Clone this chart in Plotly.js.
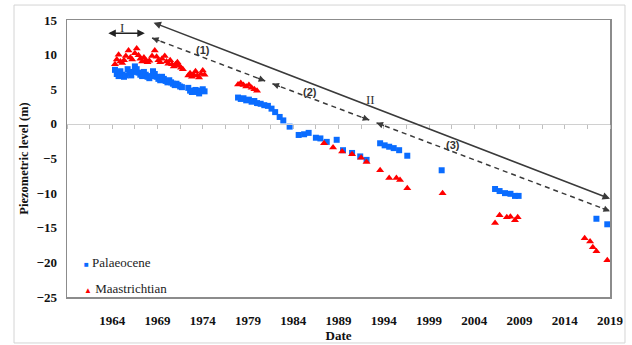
<!DOCTYPE html>
<html>
<head>
<meta charset="utf-8">
<script src="https://cdn.plot.ly/plotly-3.0.1.min.js"></script>
<style>html,body{margin:0;padding:0;background:#fff;}#chart{width:632px;height:345px;}</style>
</head>
<body>
<div id="chart"></div>
<script>
// ---- data (decimal years, piezometric level in m) ----
const palaeoceneYears = [
  1964.3,1964.5,1964.7,1964.9,1965.1,1965.3,1965.5,1965.7,1965.9,
  1966.1,1966.3,1966.5,1966.7,1966.9,1967.1,1967.3,1967.5,1967.7,1967.9,
  1968.1,1968.3,1968.5,1968.7,1968.9,1969.1,1969.3,1969.5,1969.7,1969.9,
  1970.1,1970.3,1970.5,1970.7,1970.9,1971.1,1971.3,1971.5,1971.7,
  1972.4,1972.6,1972.8,1973.0,1973.2,1973.4,1973.6,1973.8,1974.0,1974.2,
  1977.9,1978.2,1978.5,1978.8,1979.1,1979.4,1979.7,1980.0,1980.4,1980.8,
  1981.2,1981.6,1982.0,1982.5,1982.9,1983.6,1984.6,1985.2,1985.7,1986.5,
  1987.0,1987.7,1988.8,1989.5,1990.5,1991.4,1992.1,
  1993.6,1994.1,1994.6,1995.1,1995.7,1996.6,
  2000.4,
  2006.3,2006.8,2007.4,2008.0,2008.5,2008.9,
  2017.5,2018.7
];
const palaeoceneLevels = [
  7.8,7.2,6.9,7.6,7.1,6.8,7.0,7.9,7.4,
  7.0,7.5,8.3,7.9,7.4,7.1,6.9,7.5,7.1,6.8,
  6.6,6.9,7.6,7.2,6.8,6.5,6.3,6.8,6.5,6.2,
  6.0,6.3,6.0,5.8,5.6,5.8,5.6,5.4,5.3,
  5.2,4.8,4.6,4.7,4.9,4.6,4.4,4.8,5.0,4.7,
  3.8,3.6,3.7,3.4,3.5,3.2,3.3,3.0,2.9,2.7,
  2.6,2.2,1.7,1.0,0.5,-0.4,-1.6,-1.5,-1.3,-2.0,
  -2.1,-2.6,-2.3,-3.8,-4.2,-4.7,-5.2,
  -2.8,-3.1,-3.3,-3.5,-3.8,-4.6,
  -6.7,
  -9.4,-9.7,-10.0,-10.1,-10.4,-10.4,
  -13.7,-14.5
];
const maastrichtianYears = [
  1964.3,1964.5,1964.7,1964.9,1965.1,1965.3,1965.5,1965.8,1966.0,
  1966.2,1966.5,1966.7,1966.9,1967.1,1967.3,1967.5,1967.7,1967.9,
  1968.1,1968.4,1968.7,1968.9,1969.1,1969.3,1969.5,1969.8,1970.0,
  1970.2,1970.4,1970.6,1970.8,1971.0,1971.2,1971.4,1971.6,1971.8,
  1972.4,1972.6,1972.8,1973.0,1973.2,1973.4,1973.6,1973.8,1974.0,1974.2,
  1977.9,1978.2,1978.5,1978.8,1979.1,1979.4,1979.7,1980.0,
  1987.4,1988.4,1989.4,1990.5,1991.5,1992.1,
  1993.6,1994.6,1995.4,1995.8,1996.6,
  2000.5,
  2006.3,2006.8,2007.6,2008.0,2008.5,2008.8,
  2016.2,2016.8,2017.1,2017.5,2018.7
];
const maastrichtianLevels = [
  8.6,9.3,10.0,9.0,8.8,9.2,9.8,10.6,9.6,
  9.3,10.2,10.9,9.9,9.4,9.0,9.6,9.2,8.9,
  9.1,9.8,10.6,9.7,9.2,8.9,9.4,9.8,9.0,
  8.7,9.2,8.6,8.3,8.6,8.9,8.4,8.1,7.9,
  7.0,7.3,6.8,7.1,7.6,7.0,6.7,7.2,7.7,7.1,
  5.7,5.9,5.6,5.4,5.6,5.2,5.0,4.8,
  -2.8,-3.4,-4.0,-4.4,-4.9,-5.5,
  -6.7,-7.8,-7.8,-8.1,-9.3,
  -10.0,
  -14.3,-13.2,-13.5,-13.4,-13.9,-13.5,
  -16.5,-17.0,-17.8,-18.4,-19.7
];
const xTickYears = [1964,1969,1974,1979,1984,1989,1994,1999,2004,2009,2014,2019];
const yTicks = [-25,-20,-15,-10,-5,0,5,10,15];
const seriesNames = ['Palaeocene','Maastrichtian'];

// ---- styling / annotation geometry ----
const serif = "Liberation Serif, Times New Roman, serif";
const darkLine = '#3a3a3a';
const blue = '#0a6cff', red = '#ff0000';
const dashedSegs = [[1968.4,12.4,1980.9,6.2],[1981.7,5.8,1992.4,0.55],[1993.2,0.15,2019,-12.6]];

const traces = [
  {name:seriesNames[0], x:palaeoceneYears, y:palaeoceneLevels, type:'scatter', mode:'markers',
   marker:{symbol:'square', size:6, color:blue}},
  {name:seriesNames[1], x:maastrichtianYears, y:maastrichtianLevels, type:'scatter', mode:'markers',
   xaxis:'x2', marker:{symbol:'triangle-up', size:7, color:red}}
];

const shapes = [
  {type:'rect', xref:'paper', yref:'paper', x0:-0.0976, x1:1.0276, y0:-0.166, y1:1.054,
   line:{color:'#d4d4d4', width:1}, layer:'below'}
];
const annotations = [];
dashedSegs.forEach(s => {
  shapes.push({type:'line', xref:'x', yref:'y', x0:s[0], y0:s[1], x1:s[2], y1:s[3],
    line:{color:darkLine, width:1.5, dash:'5px,4px'}});
  annotations.push({x:s[0], y:s[1], xref:'x', yref:'y', text:'', showarrow:true, arrowhead:2,
    arrowsize:1, arrowwidth:1.3, arrowcolor:darkLine, ax:9, ay:3.4, standoff:0});
  annotations.push({x:s[2], y:s[3], xref:'x', yref:'y', text:'', showarrow:true, arrowhead:2,
    arrowsize:1, arrowwidth:1.3, arrowcolor:darkLine, ax:-9, ay:-3.4, standoff:0});
});
// solid double arrow (II)
annotations.push({x:2019, y:-10.8, ax:1968.4, ay:14.7, xref:'x', yref:'y', axref:'x', ayref:'y',
  text:'', showarrow:true, arrowhead:2, arrowside:'end+start', arrowsize:1, arrowwidth:1.5,
  arrowcolor:darkLine, standoff:0, startstandoff:0});
// I double arrow
annotations.push({x:1967.6, y:13.1, ax:1963.4, ay:13.1, xref:'x', yref:'y', axref:'x', ayref:'y',
  text:'', showarrow:true, arrowhead:2, arrowside:'end+start', arrowsize:1, arrowwidth:1.5,
  arrowcolor:'#222', standoff:0, startstandoff:0});
const labelFont = {family:'Liberation Sans, Arial, sans-serif', size:11, color:'#333', weight:'bold'};
[['(1)',1974.0,10.7],['(2)',1985.9,4.6],['(3)',2001.7,-3.05]].forEach(t=>{
  annotations.push({x:t[1], y:t[2], xref:'x', yref:'y', text:t[0], showarrow:false, font:labelFont});
});
annotations.push({x:1992.5, y:3.5, xref:'x', yref:'y', text:'II', showarrow:false,
  font:{family:serif, size:13, color:'#333'}});
annotations.push({x:1965.1, y:13.9, xref:'x', yref:'y', text:'I', showarrow:false,
  font:{family:serif, size:13, color:'#333'}});
// legend drawn as text annotations (tight symbol-to-text spacing like the original)
annotations.push({xref:'paper', yref:'paper', x:0.028, y:0.125, xanchor:'left', yanchor:'middle',
  showarrow:false, font:{family:serif, size:13, color:'#222'},
  text:'<span style="color:'+blue+';font-size:8px">■</span> '+seriesNames[0]});
annotations.push({xref:'paper', yref:'paper', x:0.028, y:0.03, xanchor:'left', yanchor:'middle',
  showarrow:false, font:{family:serif, size:13, color:'#222'},
  text:'<span style="color:'+red+';font-size:8px">▲</span> '+seriesNames[1]});

const layout = {
  width:632, height:345,
  margin:{l:67, r:22, t:20, b:48},
  paper_bgcolor:'#fff', plot_bgcolor:'#fff',
  showlegend:false,
  xaxis:{range:[1959,2019], tickvals:xTickYears, ticktext:xTickYears.map(String),
    showgrid:false, zeroline:false, ticks:'', showline:true, mirror:true, linecolor:'#8c8c8c', linewidth:1.5,
    tickfont:{family:serif, size:13, color:'#111', weight:'bold'}, ticklabelstandoff:11,
    title:{text:'Date', font:{family:serif, size:13, color:'#111', weight:'bold'}, standoff:3}},
  xaxis2:{range:[1959,2019], overlaying:'x', anchor:'free', position:0.625, tick0:1959, dtick:2.5,
    ticks:'outside', ticklen:4, tickcolor:'#bfbfbf', showticklabels:false, showgrid:false, zeroline:false,
    showline:true, linecolor:'#d0d0d0', linewidth:1},
  yaxis:{range:[-25,15], tickvals:yTicks, showgrid:false, zeroline:false, ticks:'',
    showline:true, mirror:true, linecolor:'#8c8c8c', linewidth:1.5, ticklabelstandoff:6,
    tickfont:{family:serif, size:13, color:'#111', weight:'bold'},
    title:{text:'Piezometric level (m)', font:{family:serif, size:12.5, color:'#111', weight:'bold'}, standoff:5}},
  shapes:shapes,
  annotations:annotations
};
Plotly.newPlot('chart', traces, layout, {displayModeBar:false, staticPlot:true});
</script>
</body>
</html>
